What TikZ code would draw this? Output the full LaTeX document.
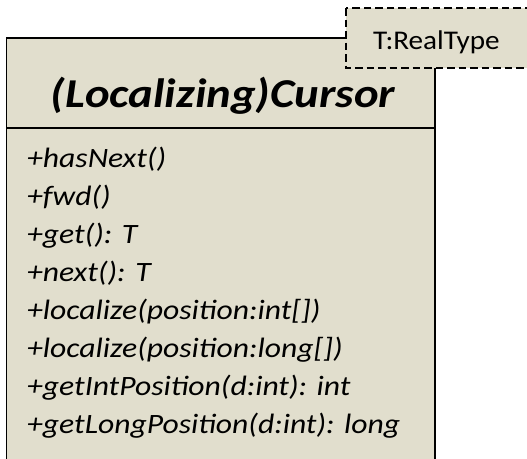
\documentclass[tikz,border=0pt]{standalone}
\usepackage{graphicx}
\usepackage{fontspec}
\setmainfont{Carlito}
\definecolor{umlfill}{HTML}{E1DECD}
\begin{document}
\begin{tikzpicture}[x=1pt,y=-1pt,
  umlline/.style={draw=black,line width=1.5pt},
  typebox/.style={draw=black,line width=1.4pt,dash pattern=on 7.5pt off 4pt,fill=umlfill},
  titletext/.style={font=\fontsize{41}{49}\selectfont\bfseries\itshape,inner sep=0pt},
  methodtext/.style={font=\fontsize{28}{38}\selectfont\itshape,inner sep=0pt},
  typetext/.style={font=\fontsize{27}{32}\selectfont,inner sep=0pt}]
\useasboundingbox (0,0) rectangle (527,458);
\clip (0,0) rectangle (527,458);
% class box (runs past the lower edge)
\path[umlline,fill=umlfill] (6.5,38) rectangle (435,480);
\coordinate (divl) at (6.5,128);
\coordinate (divr) at (435,128);
\draw[umlline] (divl) -- (divr);
\node[titletext,anchor=base] (title) at (223,107) {\scalebox{1.14}[1]{(Localizing)Cursor}};
\node[methodtext,anchor=base west] (methods) at (27,167) {\scalebox{1.13}[1]{\begin{tabular}[t]{@{}l@{}}+hasNext()\\+fwd()\\+get(): T\\+next(): T\\+localize(position:int[])\\+localize(position:long[])\\+getIntPosition(d:int): int\\+getLongPosition(d:int): long\end{tabular}}};
% template parameter box
\path[typebox] (346,8) rectangle (540,68);
\node[typetext,anchor=base west] (tparam) at (373,49.5) {\scalebox{1.08}[1]{T:RealType}};
\end{tikzpicture}
\end{document}
